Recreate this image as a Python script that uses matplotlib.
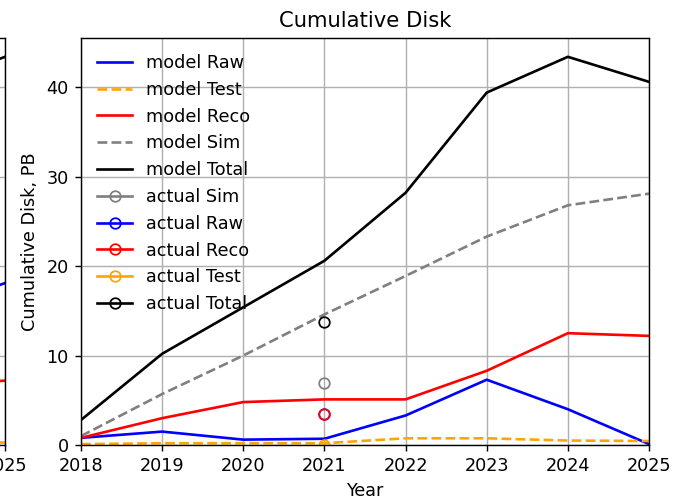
import matplotlib
matplotlib.use('Agg')
import matplotlib.pyplot as plt

years = [2018, 2019, 2020, 2021, 2022, 2023, 2024, 2025]

# model projections, PB
model_raw = [0.8, 1.5, 0.6, 0.7, 3.3, 7.3, 4.0, 0.1]
model_test = [0.1, 0.2, 0.2, 0.2, 0.75, 0.75, 0.5, 0.45]
model_reco = [0.8, 3.0, 4.8, 5.1, 5.1, 8.3, 12.5, 12.2]
model_sim = [1.0, 5.7, 10.0, 14.6, 18.9, 23.3, 26.8, 28.1]
model_total = [2.8, 10.2, 15.4, 20.6, 28.2, 39.4, 43.4, 40.6]

# measured values
actual_year = [2021]
actual_sim = [6.9]
actual_raw = [3.5]
actual_reco = [3.5]
actual_test = [0.0]
actual_total = [13.7]

# neighbouring panel (only its right edge is in frame)
left_raw = [0.8, 2.0, 4.0, 6.0, 9.0, 12.0, 15.0, 18.1]
left_test = [0.1, 0.2, 0.2, 0.2, 0.3, 0.3, 0.3, 0.3]
left_reco = [0.8, 1.5, 2.5, 3.5, 4.5, 5.5, 6.5, 7.2]
left_total = [2.8, 8.0, 14.0, 20.0, 27.0, 34.0, 40.0, 43.4]

DPI = 127
fig = plt.figure(figsize=(690 / DPI, 499 / DPI), dpi=DPI)

ax0 = fig.add_axes([-0.8159, 0.1082, 0.8232, 0.8156])
ax0.plot(years, left_raw, color='blue')
ax0.plot(years, left_test, color='orange', linestyle='--')
ax0.plot(years, left_reco, color='red')
ax0.plot(years, left_total, color='black')
ax0.set_xlim(2018, 2025)
ax0.set_ylim(0, 45.5)
ax0.grid(True)

ax = fig.add_axes([0.1174, 0.1082, 0.8232, 0.8156])
ax.plot(years, model_raw, color='blue', label='model Raw')
ax.plot(years, model_test, color='orange', linestyle='--', label='model Test')
ax.plot(years, model_reco, color='red', label='model Reco')
ax.plot(years, model_sim, color='gray', linestyle='--', label='model Sim')
ax.plot(years, model_total, color='black', label='model Total')

mk = dict(marker='o', markerfacecolor='none')
ax.plot(actual_year, actual_sim, color='gray', label='actual Sim', **mk)
ax.plot(actual_year, actual_raw, color='blue', label='actual Raw', **mk)
ax.plot(actual_year, actual_reco, color='red', label='actual Reco', **mk)
ax.plot(actual_year, actual_test, color='orange', label='actual Test', **mk)
ax.plot(actual_year, actual_total, color='black', label='actual Total', **mk)

ax.set_xlim(2018, 2025)
ax.set_ylim(0, 45.5)
ax.grid(True)
ax.set_title('Cumulative Disk')
ax.set_xlabel('Year')
ax.set_ylabel('Cumulative Disk, PB')
ax.legend(loc='upper left', frameon=False)

fig.savefig('out.png', dpi=DPI)
